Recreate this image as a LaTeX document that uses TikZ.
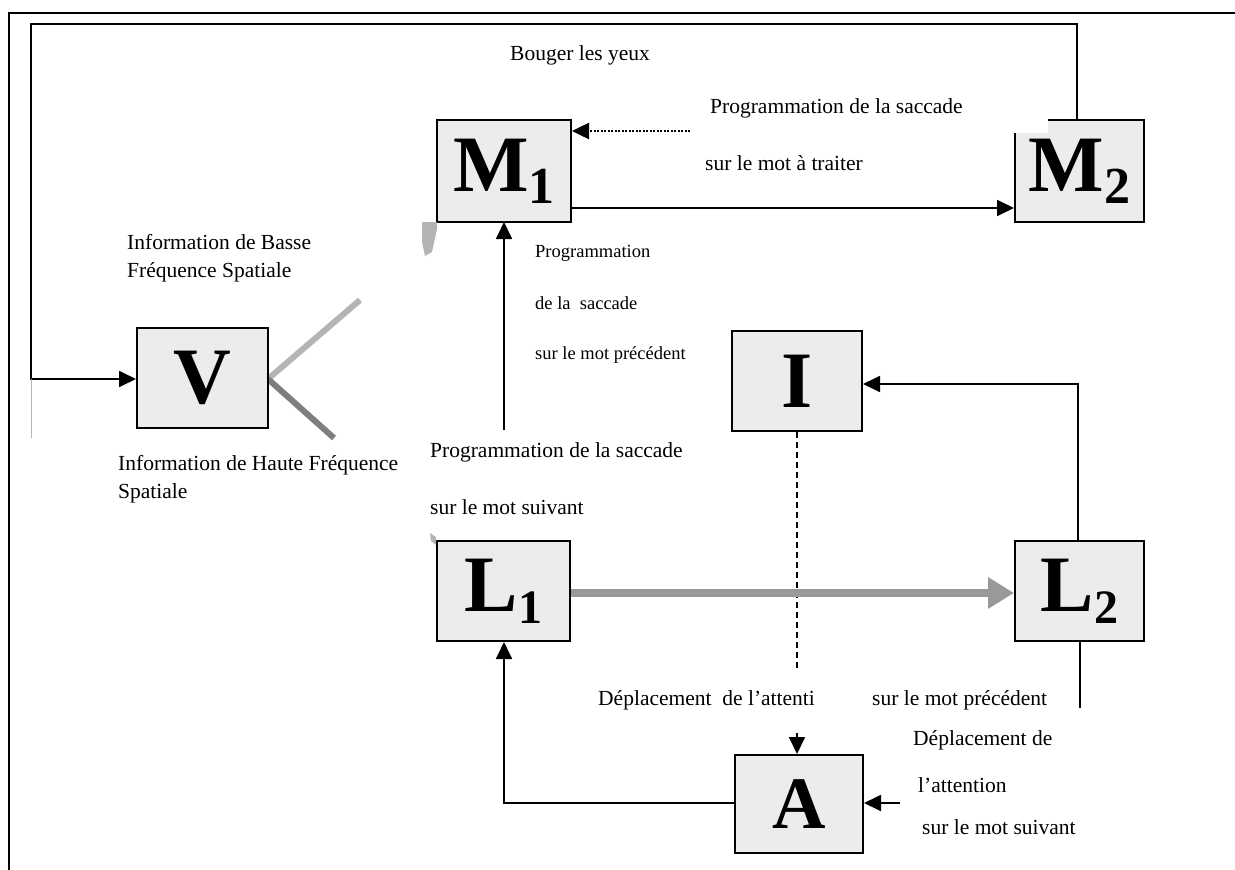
\documentclass[tikz,border=0pt]{standalone}
\usepackage{fontspec}
\setmainfont{Liberation Serif}
\usetikzlibrary{arrows.meta}
\definecolor{boxgray}{HTML}{ECECEC}
\definecolor{lightline}{HTML}{B4B4B4}
\definecolor{darkline}{HTML}{7E7E7E}
\definecolor{midgray}{HTML}{999999}
\newcommand\sbx[3]{#1\raisebox{-12pt}{\fontsize{#3}{#3}\selectfont #2}}
\begin{document}
\begin{tikzpicture}[x=1pt,y=-1pt,
  blk/.style={draw=black,line width=2pt,fill=boxgray,inner sep=0pt,
    font=\fontsize{80}{80}\selectfont\bfseries},
  lbl/.style={anchor=west,inner sep=0pt,font=\fontsize{21.5}{21.5}\selectfont},
  slbl/.style={anchor=west,inner sep=0pt,font=\fontsize{18.5}{18.5}\selectfont},
  conn/.style={line width=1.8pt,draw=black},
  arr/.style={conn,-{Triangle[length=17pt,width=16pt]}},
]
\useasboundingbox (0,0) rectangle (1235,870);
\fill[white] (0,0) rectangle (1235,870);

% outer frame
\draw[line width=2.5pt] (9,875) -- (9,13) -- (1240,13);

% coordinates for free ends
\coordinate (loopTR) at (1077,24);
\coordinate (loopTL) at (31,24);
\coordinate (loopBL) at (31,379);
\coordinate (loopFade) at (31,438);
\coordinate (dotStart) at (690,131);
\coordinate (upStart) at (504,430);
\coordinate (dashEnd) at (797,668);
\coordinate (l2End) at (1080,708);
\coordinate (aTop) at (797,733);
\coordinate (aRight) at (900,803);
\coordinate (aCorner) at (504,803);
\coordinate (iCorner) at (1078,384);
\coordinate (lightEnd) at (360,300);
\coordinate (darkEnd) at (334,438);

% gray lines from V
\draw[line width=6pt,lightline] (268,379) -- (lightEnd);
\draw[line width=6pt,darkline] (268,379) -- (darkEnd);

% boxes
\node[blk,minimum width=134pt,minimum height=102pt] (M1) at (504,171) {\sbx{M}{1}{52}};
\node[blk,minimum width=129pt,minimum height=102pt] (M2) at (1079.5,171) {\sbx{M}{2}{52}};
\node[blk,minimum width=131pt,minimum height=100pt] (V) at (202.5,378) {V};
\node[blk,minimum width=130pt,minimum height=100pt] (I) at (797,381) {I};
\node[blk,minimum width=133pt,minimum height=100pt] (L1) at (503.5,591) {\sbx{L}{1}{48}};
\node[blk,minimum width=129pt,minimum height=100pt] (L2) at (1079.5,591) {\sbx{L}{2}{48}};
\node[blk,minimum width=128pt,minimum height=98pt,font=\fontsize{74}{74}\selectfont\bfseries] (A) at (799,804) {A};

% white notch on M2 corner
\fill[white] (1012,117) rectangle (1048,133);

% loop M2 -> V
\draw[arr] (M2.north -| loopTR) -- (loopTR) -- (loopTL) -- (loopBL) -- (V.west |- loopBL);
\draw[line width=0.8pt,lightline] (loopBL) -- (loopFade);

% M1 -> M2
\draw[arr] (M1.east |- 0,208) -- (M2.west |- 0,208);
% dotted to M1
\draw[line width=2.5pt,dash pattern=on 2pt off 1.5pt,-{Triangle[length=17pt,width=16pt]}] (dotStart) -- (M1.east |- dotStart);

% up to M1
\draw[arr] (upStart) -- (M1.south |- 0,222);

% L2 -> I
\draw[arr] (L2.north -| iCorner) -- (iCorner) -- (I.east |- iCorner);
% dashed from I
\draw[line width=2pt,dash pattern=on 6pt off 4pt] (I.south) -- (dashEnd);
% L1 -> L2 gray
\draw[line width=8pt,midgray,-{Triangle[length=26pt,width=30pt]}] (L1.east |- 0,593) -- (L2.west |- 0,593);
% L2 bottom
\draw[conn] (L2.south -| l2End) -- (l2End);
% A arrows
\draw[arr] (aTop) -- (A.north -| aTop);
\draw[arr] (aRight) -- (A.east |- aRight);
\draw[arr] (A.west |- aCorner) -- (aCorner) -- (L1.south -| aCorner);

% gray fragments
\fill[lightline] (422,222) -- (437,222) -- (437,229) -- (432,252) -- (425,256) -- (422,242) -- cycle;
\fill[lightline] (430,533) -- (436,537) -- (436,545) -- (431,541) -- cycle;

% labels
\node[lbl] (t1) at (510,55) {Bouger les yeux};
\node[lbl] (t2) at (710,108) {Programmation de la saccade};
\node[lbl] (t3) at (705,163) {sur le mot à traiter};
\node[lbl] (t4) at (127,242) {Information de Basse};
\node[lbl] (t5) at (127,272) {Fréquence Spatiale};
\node[slbl] (t6) at (535,253) {Programmation};
\node[slbl] (t7) at (535,303) {de la~ saccade};
\node[slbl] (t8) at (535,355) {sur le mot précédent};
\node[lbl] (t9) at (118,465) {Information de Haute Fréquence};
\node[lbl] (t10) at (118,493) {Spatiale};
\node[lbl] (t11) at (430,452) {Programmation de la saccade};
\node[lbl] (t12) at (430,507) {sur le mot suivant};
\node[lbl] (t13) at (598,700) {Déplacement~ de l’attenti};
\node[lbl] (t14) at (872,700) {sur le mot précédent};
\node[lbl] (t15) at (913,740) {Déplacement de};
\node[lbl] (t16) at (918,785) {l’attention};
\node[lbl] (t17) at (922,827) {sur le mot suivant};
\end{tikzpicture}
\end{document}
